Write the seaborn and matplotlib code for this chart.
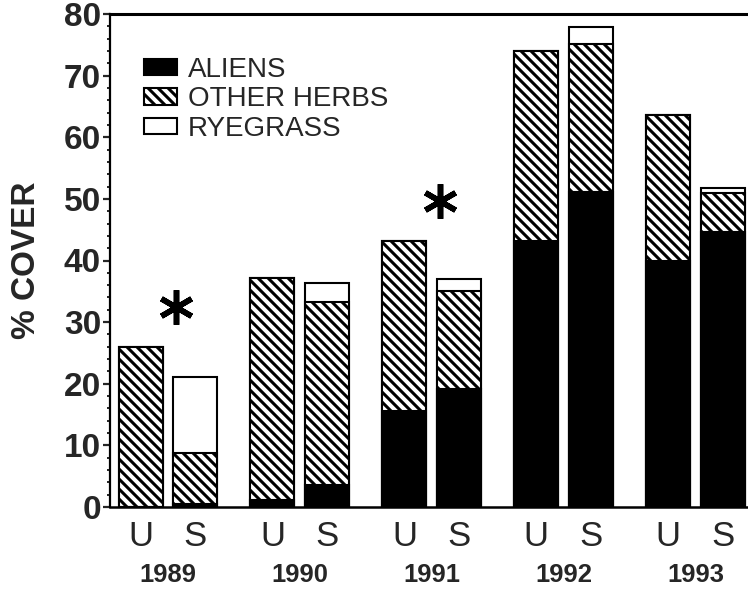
import matplotlib
matplotlib.use("Agg")
import matplotlib.pyplot as plt
from matplotlib.patches import Patch
from matplotlib.ticker import MultipleLocator
import seaborn as sns
import pandas as pd
import numpy as np

# ---- data ----
years = ["1989", "1990", "1991", "1992", "1993"]
treatments = ["U", "S"]
aliens = [0.0, 0.5, 1.1, 3.6, 15.6, 19.2, 43.1, 51.1, 40.0, 44.7]
other_herbs = [26.0, 8.3, 36.0, 29.6, 27.5, 15.9, 30.9, 24.0, 23.6, 6.3]
ryegrass = [0.0, 12.3, 0.0, 3.2, 0.0, 1.9, 0.0, 2.8, 0.0, 0.7]
star_years = ["1989", "1991"]
star_heights = [32.5, 49.7]
series_names = ["ALIENS", "OTHER HERBS", "RYEGRASS"]

# ---- layout ----
DPI = 90
K = 100 / DPI          # keep point sizes equal to a 100-dpi rendering
W, H = 748, 590
GROUP_STEP = 2.4

pos = []
for gi, _ in enumerate(years):
    for ti, _ in enumerate(treatments):
        pos.append(gi * GROUP_STEP + ti)
pos = np.array(pos)

a = np.array(aliens)
h = np.array(other_herbs)
r = np.array(ryegrass)
df = pd.DataFrame({
    "pos": pos,
    "aliens": a,
    "herbs_cum": a + h,
    "total": a + h + r,
})

HATCH = "\\\\\\"

sns.set_style("ticks")
plt.rcParams["font.family"] = ["Liberation Sans", "DejaVu Sans"]
plt.rcParams["hatch.linewidth"] = 2.2 * K
plt.rcParams["hatch.color"] = "black"

fig = plt.figure(figsize=(W / DPI, H / DPI), dpi=DPI)
ax = fig.add_axes([110 / W, 83 / H, 1 - 110 / W, (507 - 14) / H])

common = dict(x="pos", native_scale=True, width=0.8, errorbar=None,
              saturation=1, edgecolor="black", linewidth=1.5 * K, ax=ax)
sns.barplot(data=df, y="total", color="white", **common)
sns.barplot(data=df, y="herbs_cum", color="white", hatch=HATCH, **common)
sns.barplot(data=df, y="aliens", color="black", **common)

# asterisks
for yr, yv in zip(star_years, star_heights):
    gi = years.index(yr)
    ax.plot([gi * GROUP_STEP + 0.65], [yv], marker=(6, 2, 0),
            markersize=25 * K, markeredgewidth=4 * K, color="black",
            linestyle="none")

ax.set_xlim(-0.555, 11.05)
ax.set_ylim(0, 80)

# axes styling
for side in ["left", "bottom", "top"]:
    ax.spines[side].set_visible(True)
    ax.spines[side].set_color("black")
ax.spines["left"].set_linewidth(1.6 * K)
ax.spines["bottom"].set_linewidth(1.8 * K)
ax.spines["top"].set_linewidth(2.2 * K)
ax.spines["right"].set_visible(False)

ax.yaxis.set_major_locator(MultipleLocator(10))
ax.yaxis.set_minor_locator(MultipleLocator(2))
ax.tick_params(axis="y", which="major", direction="out", length=5 * K,
               width=1.6 * K, pad=1.5 * K, labelsize=24 * K)
ax.tick_params(axis="y", which="minor", direction="out", length=2.5 * K,
               width=1.4 * K)
for lab in ax.get_yticklabels():
    lab.set_fontweight("bold")

ax.set_xticks(pos)
ax.set_xticklabels(treatments * len(years), fontsize=25 * K)
group_centers = [gi * GROUP_STEP + 0.5 for gi in range(len(years))]
ax.set_xticks(group_centers, minor=True)
ax.set_xticklabels(years, minor=True, fontsize=18.5 * K, fontweight="bold")
ax.tick_params(axis="x", which="major", length=0, pad=9 * K)
ax.tick_params(axis="x", which="minor", length=0, pad=40 * K)

ax.set_xlabel("")
ax.set_ylabel("% COVER", fontsize=24 * K, fontweight="bold")
ax.yaxis.set_label_coords(-0.106, 0.5)

handles = [
    Patch(facecolor="black", edgecolor="black", linewidth=1.5 * K),
    Patch(facecolor="white", edgecolor="black", linewidth=1.5 * K, hatch=HATCH),
    Patch(facecolor="white", edgecolor="black", linewidth=1.5 * K),
]
ax.legend(handles, series_names, loc="upper left",
          bbox_to_anchor=(34 / 638, 1 - 43 / 493), frameon=False,
          fontsize=20 * K, handlelength=1.2, handleheight=0.52,
          handletextpad=0.38, labelspacing=0.12, borderpad=0, borderaxespad=0)

fig.savefig("out.png", dpi=DPI)
